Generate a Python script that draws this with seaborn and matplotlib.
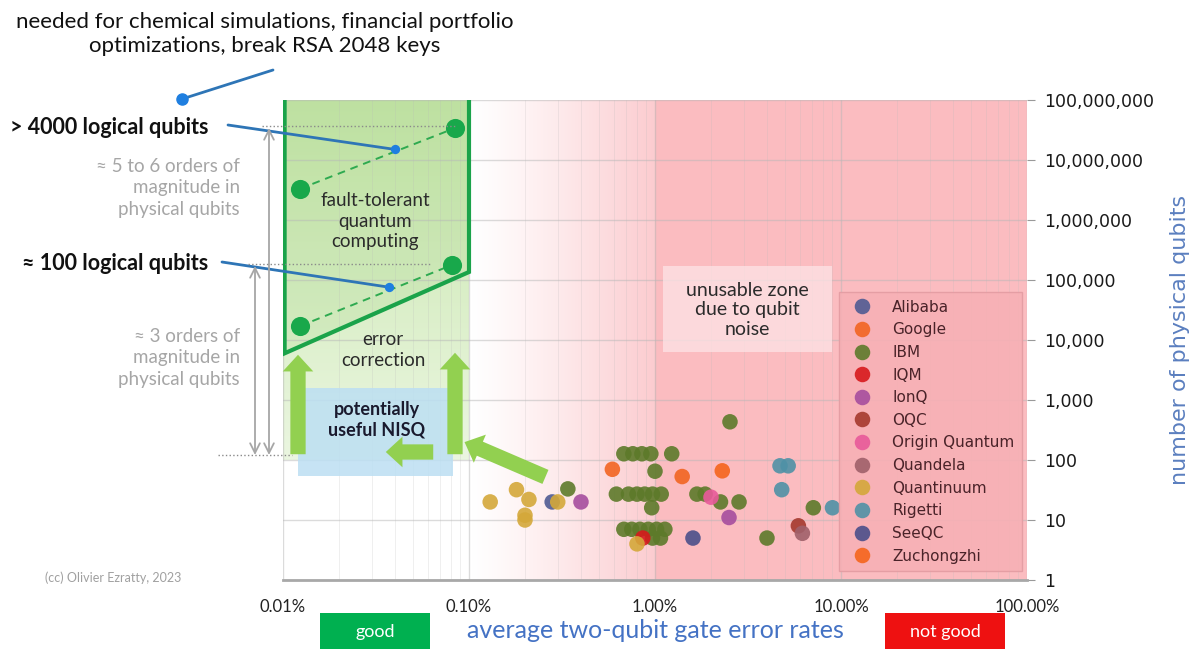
import numpy as np
import pandas as pd
import matplotlib.pyplot as plt
import seaborn as sns
from matplotlib.patches import Rectangle, FancyArrowPatch
from matplotlib.lines import Line2D
from matplotlib.ticker import FuncFormatter, NullLocator, LogLocator

W, H = 1189, 649

companies = ['Alibaba', 'Google', 'IBM', 'IQM', 'IonQ', 'OQC', 'Origin Quantum',
             'Quandela', 'Quantinuum', 'Rigetti', 'SeeQC', 'Zuchongzhi']
company_colors = ['#4f5b93', '#f26522', '#5d7a2a', '#d7191c', '#a64d9e', '#a5392e',
                  '#e85a9a', '#a0606a', '#d4a83a', '#4f91a6', '#4b4f8a', '#f5651c']

# processors: vendor, average two-qubit gate error (%), physical qubits
vendor = (['Alibaba'] + ['Google'] * 2 + ['IBM'] * 29 + ['IQM'] + ['IonQ'] * 2 + ['OQC']
          + ['Origin Quantum'] + ['Quandela'] + ['Quantinuum'] * 7 + ['Rigetti'] * 4
          + ['SeeQC'] + ['Zuchongzhi'])
error_pct = [0.28,
             0.59, 1.4,
             0.34, 0.68, 0.76, 0.85, 0.95, 1.23, 1.0, 2.53,
             0.62, 0.72, 0.80, 0.88, 0.97, 1.08, 1.68, 1.86,
             0.96, 7.1, 2.25, 2.83,
             0.68, 0.75, 0.83, 0.92, 1.02, 1.13, 4.0, 0.97, 1.07,
             0.86,
             0.40, 2.5,
             5.9,
             2.0,
             6.2,
             0.13, 0.18, 0.21, 0.20, 0.20, 0.30, 0.80,
             4.7, 5.2, 4.8, 9.0,
             1.6,
             2.3]
qubits = [20,
          70, 53,
          33, 127, 127, 127, 127, 127, 65, 433,
          27, 27, 27, 27, 27, 27, 27, 27,
          16, 16, 20, 20,
          7, 7, 7, 7, 7, 7, 5, 5, 5,
          5,
          20, 11,
          8,
          24,
          6,
          20, 32, 22, 12, 10, 20, 4,
          80, 80, 32, 16,
          5,
          66]

# fault-tolerant zone markers (error %, physical qubits)
ftqc_low_x = [0.0123, 0.081]
ftqc_low_y = [17000, 178000]
ftqc_high_x = [0.0123, 0.084]
ftqc_high_y = [3.3e6, 3.4e7]
logical_x = [0.040, 0.037]
logical_y = [1.5e7, 7.6e4]
zone_x = [0.0102, 0.0102, 0.1, 0.1]
zone_y = [1e8, 6000, 1.36e5, 1e8]

x_ticks = [0.01, 0.1, 1, 10, 100]
x_labels = ['0.01%', '0.10%', '1.00%', '10.00%', '100.00%']

sns.set_style('white')
plt.rcParams['font.family'] = ['Lato', 'DejaVu Sans']


def P(x, y):
    return (x / W, 1 - y / H)


fig = plt.figure(figsize=(W / 100, H / 100), dpi=100)
ax = fig.add_axes([283 / W, 69 / H, 744 / W, 480 / H])
ax.set_xscale('log')
ax.set_yscale('log')
ax.set_xlim(0.01, 100)
ax.set_ylim(1, 1e8)
ax.set_autoscale_on(False)

# backgrounds
g = np.zeros((256, 1, 4))
top = np.array([0.78, 0.90, 0.67])
bot = np.array([0.92, 0.965, 0.88])
t = np.linspace(0, 1, 256)[:, None]
g[:, 0, :3] = top * (1 - t) + bot * t
g[:, 0, 3] = 1
ax.imshow(g, extent=(0, 0.25, 0.25, 1), transform=ax.transAxes, aspect='auto', zorder=0)

pink = np.array([0.985, 0.74, 0.76])
pg = np.zeros((1, 256, 4))
pg[0, :, :3] = pink
pg[0, :, 3] = np.linspace(0, 0.8, 256) ** 1.2
ax.imshow(pg, extent=(0.25, 0.5, 0, 1), transform=ax.transAxes, aspect='auto', zorder=0)
ax.axvspan(1, 100, color='#fbbcc0', zorder=0.1, lw=0)

ax.fill(zone_x, zone_y, color='#8cc86a', alpha=0.15, lw=0, zorder=0.2)

ax.set_axisbelow(True)
ax.grid(which='major', color='#b8b8b8', lw=1, alpha=0.5)
ax.grid(which='minor', axis='x', color='#b8b8b8', lw=0.6, alpha=0.25)

sns.scatterplot(x=error_pct, y=qubits, hue=vendor, hue_order=companies,
                palette=dict(zip(companies, company_colors)), s=125,
                linewidth=0, alpha=0.9, ax=ax, zorder=3)

ax.set_xlim(0.01, 100)
ax.set_ylim(1, 1e8)

# fault tolerant zone
ax.plot(zone_x, zone_y, color='#1aa34a', lw=3, zorder=4, solid_joinstyle='miter')
ax.plot(ftqc_high_x, ftqc_high_y, color='#2eaa50', lw=1.4, ls=(0, (4, 3)), zorder=4)
ax.plot(ftqc_low_x, ftqc_low_y, color='#2eaa50', lw=1.4, ls=(0, (4, 3)), zorder=4)
ax.scatter(ftqc_high_x + ftqc_low_x, ftqc_high_y + ftqc_low_y, s=190, color='#18a84b',
           lw=0, zorder=5)
ax.scatter(logical_x, logical_y, s=45, color='#1f7fe0', lw=0, zorder=6)

# axes styling
for sp in ['top', 'left', 'right']:
    ax.spines[sp].set_visible(False)
ax.spines['bottom'].set_color('#a8a8a8')
ax.spines['bottom'].set_linewidth(2)
ax.set_xticks(x_ticks, labels=x_labels, fontsize=12, family=['Lato', 'DejaVu Sans'])
ax.xaxis.set_minor_locator(LogLocator(base=10, subs=np.arange(2, 10), numticks=20))
ax.tick_params(axis='x', which='major', length=5, color='#999999', pad=9, labelcolor='#222222')
ax.tick_params(axis='x', which='minor', length=3, color='#999999')
ax.xaxis.set_minor_formatter(FuncFormatter(lambda v, p: ''))
ax.yaxis.tick_right()
ax.yaxis.set_label_position('right')
ax.yaxis.set_major_locator(LogLocator(base=10, numticks=12))
ax.yaxis.set_minor_locator(NullLocator())
ax.yaxis.set_major_formatter(FuncFormatter(lambda v, p: f'{v:,.0f}'))
ax.tick_params(axis='y', right=True, length=6, color='#999999', pad=6, labelsize=12.5,
               labelcolor='#1a1a1a', labelfontfamily='DejaVu Sans')
ax.set_ylabel('number of physical qubits', color='#5b7fbf', fontsize=16, labelpad=12,
              family='DejaVu Sans')
ax.set_xlabel('')

# legend
sns.move_legend(ax, 'upper left', bbox_to_anchor=(0.747, 0.6), title=None, frameon=True,
                fontsize=11, labelspacing=0.5, handletextpad=1.0, borderpad=0.5,
                fancybox=False, borderaxespad=0)
leg = ax.get_legend()
leg.get_frame().set_facecolor('#f7b0b5')
leg.get_frame().set_edgecolor('#e39ca2')
leg.get_frame().set_alpha(0.9)
for txt in leg.get_texts():
    txt.set_color('#4a2329')
    txt.set_family('DejaVu Sans')
leg.set_zorder(7)

# inner labels
fig.text(*P(375, 221), 'fault-tolerant\nquantum\ncomputing', ha='center', va='center',
         fontsize=13.5, color='#2b2b2b', linespacing=1.25)
fig.text(*P(383, 350), 'error\ncorrection', ha='center', va='center', fontsize=13.5,
         color='#2b2b2b', linespacing=1.25)
fig.add_artist(Rectangle(P(663, 352), 169 / W, 86 / H, transform=fig.transFigure,
                         facecolor='#fde4e6', alpha=0.75, lw=0, zorder=2))
fig.text(*P(747, 310), 'unusable zone\ndue to qubit\nnoise', ha='center', va='center',
         fontsize=14, color='#2b2b2b', linespacing=1.2, zorder=3)

# NISQ box and arrows
fig.add_artist(Rectangle(P(298, 476), 155 / W, 88 / H, transform=fig.transFigure,
                         facecolor='#bcdff3', alpha=0.85, lw=0, zorder=2))
fig.text(*P(377, 420), 'potentially\nuseful NISQ', ha='center', va='center', fontsize=13,
         fontweight='bold', color='#1a1a2e', linespacing=1.25, zorder=3)
arrow_style = 'simple,head_width=22,head_length=12,tail_width=11'
for a, b in [((298, 457), (298, 352)), ((455, 457), (455, 350)),
             ((436, 452), (383, 452)), ((548, 478), (462, 441))]:
    fig.add_artist(FancyArrowPatch(P(*a), P(*b), transform=fig.transFigure,
                                   arrowstyle=arrow_style, color='#92d050', lw=0,
                                   mutation_scale=1, zorder=4))

# left annotations
fig.text(*P(265, 34), 'needed for chemical simulations, financial portfolio\n'
         'optimizations, break RSA 2048 keys', ha='center', va='center', fontsize=16,
         color='#111111', linespacing=1.25)
fig.add_artist(Line2D([182 / W, 273 / W], [1 - 99 / H, 1 - 70 / H], color='#2e75b6', lw=2))
fig.add_artist(Line2D([182 / W], [1 - 99 / H], marker='o', ms=8, color='#1f7fe0', lw=0))

fig.text(*P(10, 127), '> 4000 logical qubits', ha='left', va='center', fontsize=15.5,
         fontweight='bold', color='#111111')
fig.text(*P(22, 263), '≈ 100 logical qubits', ha='left', va='center', fontsize=15.5,
         fontweight='bold', color='#111111')
for (px, py), xy in [((228, 125), (logical_x[0], logical_y[0])),
                     ((222, 262), (logical_x[1], logical_y[1]))]:
    ax.annotate('', xy=xy, xycoords='data', xytext=P(px, py), textcoords='figure fraction',
                arrowprops=dict(arrowstyle='-', color='#2e75b6', lw=2, shrinkA=0, shrinkB=0),
                annotation_clip=False, zorder=5)

fig.text(*P(240, 188), '≈ 5 to 6 orders of\nmagnitude in\nphysical qubits', ha='right',
         va='center', fontsize=13.5, color='#a6a6a6', linespacing=1.3)
fig.text(*P(240, 358), '≈ 3 orders of\nmagnitude in\nphysical qubits', ha='right',
         va='center', fontsize=13.5, color='#a6a6a6', linespacing=1.3)
for x, y0 in [(269, 128), (255, 266)]:
    fig.add_artist(FancyArrowPatch(P(x, y0), P(x, 455), transform=fig.transFigure,
                                   arrowstyle='<->,head_length=7,head_width=3.5',
                                   mutation_scale=1, color='#a6a6a6', lw=1.3,
                                   shrinkA=0, shrinkB=0))
for x0, x1, y in [(262, 455, 126), (248, 430, 264), (218, 292, 455)]:
    fig.add_artist(Line2D([x0 / W, x1 / W], [1 - y / H, 1 - y / H], color='#8a8a8a',
                          lw=1, ls=':'))

fig.text(*P(45, 578), '(cc) Olivier Ezratty, 2023', ha='left', va='center', fontsize=9,
         color='#a0a0a0')

# bottom labels
fig.add_artist(Rectangle(P(320, 649), 110 / W, 36 / H, transform=fig.transFigure,
                         facecolor='#00b050', lw=0))
fig.text(*P(375, 632), 'good', ha='center', va='center', fontsize=13, color='white')
fig.add_artist(Rectangle(P(885, 649), 120 / W, 36 / H, transform=fig.transFigure,
                         facecolor='#ee1111', lw=0))
fig.text(*P(945, 632), 'not good', ha='center', va='center', fontsize=13, color='white')
fig.text(*P(655, 630), 'average two-qubit gate error rates', ha='center', va='center',
         fontsize=18, color='#4472c4')

fig.savefig('out.png', dpi=100)
